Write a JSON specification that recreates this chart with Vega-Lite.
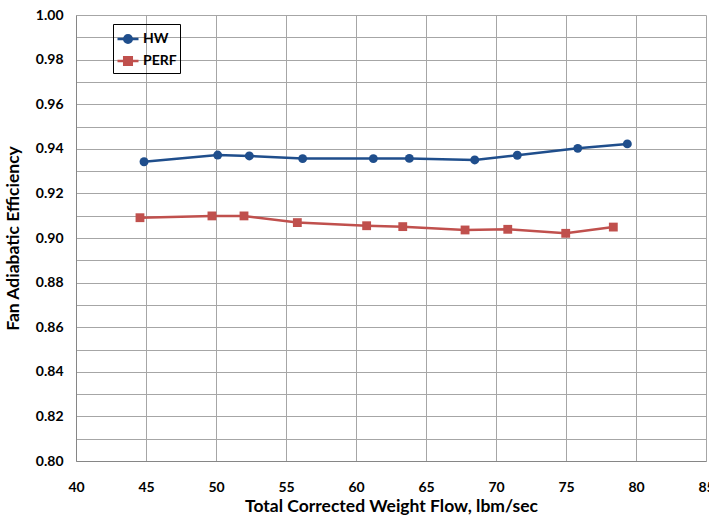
{
  "$schema": "https://vega.github.io/schema/vega-lite/v6.json",
  "width": 630,
  "height": 446,
  "autosize": "none",
  "padding": {"left": 76, "top": 15, "right": 3, "bottom": 58},
  "background": "white",
  "config": {
    "font": "Lato",
    "view": {"stroke": null},
    "axis": {"labelFont": "Lato", "titleFont": "Lato", "labelFontWeight": "bold", "titleFontWeight": "bold", "labelColor": "#000000", "titleColor": "#000000", "labelFontSize": 14, "titleFontSize": 17.5, "gridColor": "#a6a6a6", "gridWidth": 1, "domainColor": "#868686", "domainWidth": 1, "ticks": false}
  },
  "data": {
    "values": [
      {"series": "HW", "flow": 44.86, "eff": 0.9342},
      {"series": "HW", "flow": 50.12, "eff": 0.9372},
      {"series": "HW", "flow": 52.38, "eff": 0.9368},
      {"series": "HW", "flow": 56.19, "eff": 0.9356},
      {"series": "HW", "flow": 61.24, "eff": 0.9356},
      {"series": "HW", "flow": 63.81, "eff": 0.9357},
      {"series": "HW", "flow": 68.48, "eff": 0.9350},
      {"series": "HW", "flow": 71.52, "eff": 0.9371},
      {"series": "HW", "flow": 75.84, "eff": 0.9402},
      {"series": "HW", "flow": 79.38, "eff": 0.9422},
      {"series": "PERF", "flow": 44.57, "eff": 0.9091},
      {"series": "PERF", "flow": 49.71, "eff": 0.9099},
      {"series": "PERF", "flow": 52.0, "eff": 0.9099},
      {"series": "PERF", "flow": 55.81, "eff": 0.9069},
      {"series": "PERF", "flow": 60.76, "eff": 0.9055},
      {"series": "PERF", "flow": 63.34, "eff": 0.9051},
      {"series": "PERF", "flow": 67.79, "eff": 0.9036},
      {"series": "PERF", "flow": 70.84, "eff": 0.9039},
      {"series": "PERF", "flow": 74.98, "eff": 0.9021},
      {"series": "PERF", "flow": 78.38, "eff": 0.9049}
    ]
  },
  "encoding": {
    "x": {
      "field": "flow", "type": "quantitative",
      "scale": {"domain": [40, 85], "nice": false, "zero": false},
      "axis": {"values": [40, 45, 50, 55, 60, 65, 70, 75, 80, 85], "title": "Total Corrected Weight Flow, lbm/sec", "labelPadding": 19, "titlePadding": 3, "labelFlush": false}
    },
    "y": {
      "field": "eff", "type": "quantitative",
      "scale": {"domain": [0.8, 1.0], "nice": false, "zero": false},
      "axis": {"values": [0.80, 0.81, 0.82, 0.83, 0.84, 0.85, 0.86, 0.87, 0.88, 0.89, 0.90, 0.91, 0.92, 0.93, 0.94, 0.95, 0.96, 0.97, 0.98, 0.99, 1.00],
        "labelExpr": "round(datum.value*100) % 2 == 0 ? format(datum.value, '.2f') : ''",
        "title": "Fan Adiabatic Efficiency", "labelPadding": 13, "titlePadding": 13, "labelFlush": false}
    },
    "color": {
      "field": "series", "type": "nominal",
      "scale": {"domain": ["HW", "PERF"], "range": ["#1F4E8C", "#C0504D"]},
      "legend": {
        "title": null, "orient": "none", "legendX": 37, "legendY": 9,
        "strokeColor": "#000000", "padding": 3, "rowPadding": 1,
        "labelFont": "Lato", "labelFontWeight": "bold", "labelFontSize": 14, "labelColor": "#000000",
        "symbolSize": 441, "labelOffset": 3,
        "encode": {
          "symbols": {
            "update": {
              "shape": {"signal": "datum.value === 'HW' ? 'M-1,0L1,0M0.36,0A0.36,0.36,0,1,1,-0.36,0A0.36,0.36,0,1,1,0.36,0Z' : 'M-1,0L1,0M-0.36,-0.36L0.36,-0.36L0.36,0.36L-0.36,0.36Z'"},
              "fill": {"signal": "datum.value === 'HW' ? '#1F4E8C' : '#C0504D'"},
              "stroke": {"signal": "datum.value === 'HW' ? '#1F4E8C' : '#C0504D'"},
              "strokeWidth": {"value": 2.5},
              "opacity": {"value": 1},
              "fillOpacity": {"value": 1}
            }
          }
        }
      }
    }
  },
  "layer": [
    {
      "mark": {"type": "line", "strokeWidth": 2.5},
      "encoding": {}
    },
    {
      "transform": [{"filter": "datum.series === 'HW'"}],
      "mark": {"type": "point", "filled": true, "opacity": 1, "shape": "circle", "size": 80},
      "encoding": {}
    },
    {
      "transform": [{"filter": "datum.series === 'PERF'"}],
      "mark": {"type": "point", "filled": true, "opacity": 1, "shape": "square", "size": 78},
      "encoding": {}
    }
  ]
}
